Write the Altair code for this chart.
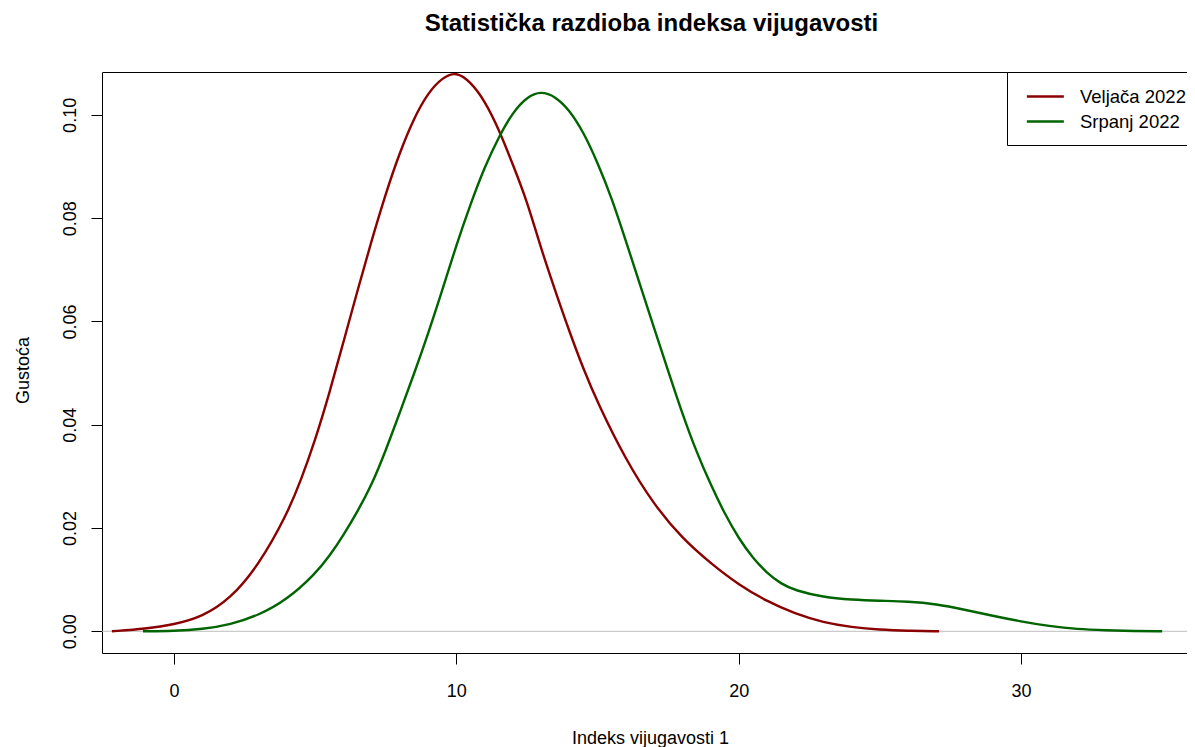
import altair as alt
import pandas as pd

# ---- data ----
series_names = ["Veljača 2022", "Srpanj 2022"]
series_colors = ["#8B0000", "#006400"]

x_veljaca = [-2.2, -1, 0, 1, 2, 3, 4, 4.5, 5, 5.5, 6, 6.5, 7, 7.5, 8, 8.5, 9, 9.5,
             10, 10.5, 11, 11.5, 12, 12.5, 13, 13.5, 14, 14.5, 15, 16, 17, 18, 19,
             20, 21, 22, 23, 24, 25, 26, 27.1]
y_veljaca = [0.0000, 0.0005, 0.0013, 0.0028, 0.0063, 0.0128, 0.0226, 0.0293, 0.0370,
             0.0460, 0.0560, 0.0660, 0.0757, 0.0848, 0.0928, 0.0994, 0.1043, 0.1072,
             0.1084, 0.1064, 0.1028, 0.0973, 0.0904, 0.0834, 0.0741, 0.0660, 0.0581,
             0.0508, 0.0443, 0.0332, 0.0245, 0.0180, 0.0132, 0.0090, 0.0058, 0.0034,
             0.0017, 0.0008, 0.0003, 0.0001, 0.0000]

x_srpanj = [-1.1, 0, 1, 2, 3, 4, 5, 5.5, 6, 6.5, 7, 7.5, 8, 8.5, 9, 9.5, 10, 10.5,
            11, 11.5, 12, 12.5, 13, 13.5, 14, 14.5, 15, 15.5, 16, 16.5, 17, 17.5,
            18, 18.5, 19, 19.5, 20, 20.5, 21, 21.5, 22, 23, 24, 25, 26, 27, 28, 29,
            30, 31, 32, 33, 34, 35]
y_srpanj = [0.0000, 0.00005, 0.0004, 0.0013, 0.0031, 0.0061, 0.0111, 0.0145, 0.0186,
            0.0232, 0.0283, 0.0350, 0.0424, 0.0498, 0.0576, 0.0660, 0.0748, 0.0827,
            0.0899, 0.0957, 0.1005, 0.1035, 0.1046, 0.1036, 0.1010, 0.0967, 0.0908,
            0.0840, 0.0757, 0.0672, 0.0588, 0.0505, 0.0422, 0.0348, 0.0285, 0.0228,
            0.0180, 0.0142, 0.0113, 0.0092, 0.0079, 0.0066, 0.0061, 0.0059, 0.0058,
            0.0053, 0.0042, 0.0030, 0.0019, 0.0010, 0.0004, 0.0002, 0.00005, 0.0000]

x_ticks = [0, 10, 20, 30]
y_ticks = [0.00, 0.02, 0.04, 0.06, 0.08, 0.10]

df = pd.concat([
    pd.DataFrame({"x": x_veljaca, "y": y_veljaca, "serija": series_names[0]}),
    pd.DataFrame({"x": x_srpanj, "y": y_srpanj, "serija": series_names[1]}),
], ignore_index=True)

FONT = "Liberation Sans"
xscale = alt.Scale(domain=[-2.55, 35.88], nice=False, zero=False)
yscale = alt.Scale(domain=[-0.0042, 0.1083], nice=False, zero=False)

zero_line = alt.Chart(pd.DataFrame({"y": [0]})).mark_rule(
    color="#BEBEBE", strokeWidth=1
).encode(y=alt.datum(0, scale=yscale))

lines = alt.Chart(df).mark_line(strokeWidth=2.4, interpolate="basis", clip=True).encode(
    x=alt.X("x:Q", scale=xscale,
            axis=alt.Axis(values=x_ticks, title="Indeks vijugavosti 1", format="d",
                          labelFontSize=18, labelPadding=18, titleFontSize=18,
                          titleFontWeight="normal", titleX=548, titleY=90,
                          titleAlign="center", titleBaseline="alphabetic")),
    y=alt.Y("y:Q", scale=yscale,
            axis=alt.Axis(values=y_ticks, title="Gustoća", format=".2f",
                          labelFontSize=18, labelAngle=270, labelAlign="center",
                          labelBaseline="alphabetic", labelPadding=16,
                          titleFontSize=18, titleFontWeight="normal",
                          titleAngle=270, titleAlign="center",
                          titleBaseline="alphabetic", titleX=-74, titleY=298)),
    color=alt.Color("serija:N",
                    scale=alt.Scale(domain=series_names, range=series_colors),
                    legend=alt.Legend(title=None, orient="none", legendX=905, legendY=0,
                                      direction="vertical", symbolType="M-0.5,0H3.5",
                                      symbolSize=342, symbolStrokeWidth=2.4,
                                      labelFontSize=18.5, labelFont=FONT,
                                      labelColor="black", labelOffset=38,
                                      padding=14, rowPadding=5,
                                      strokeColor="black", fillColor="white")),
)

chart = alt.layer(zero_line, lines).properties(
    width=1085,
    height=581,
    autosize=alt.AutoSizeParams(type="none"),
    padding={"left": 94, "top": 64, "right": 0, "bottom": 94},
    title=alt.Title("Statistička razdioba indeksa vijugavosti", font=FONT,
                    fontSize=24, fontWeight="bold", color="black",
                    anchor="middle", offset=17, dx=7, baseline="alphabetic"),
).configure_view(
    stroke="black", strokeWidth=1
).configure_axis(
    domain=False, grid=False, tickColor="black", tickSize=11, tickWidth=1,
    labelColor="black", titleColor="black", labelFont=FONT, titleFont=FONT,
)

chart.save("out.html", embed_options={"renderer": "svg", "actions": False})
